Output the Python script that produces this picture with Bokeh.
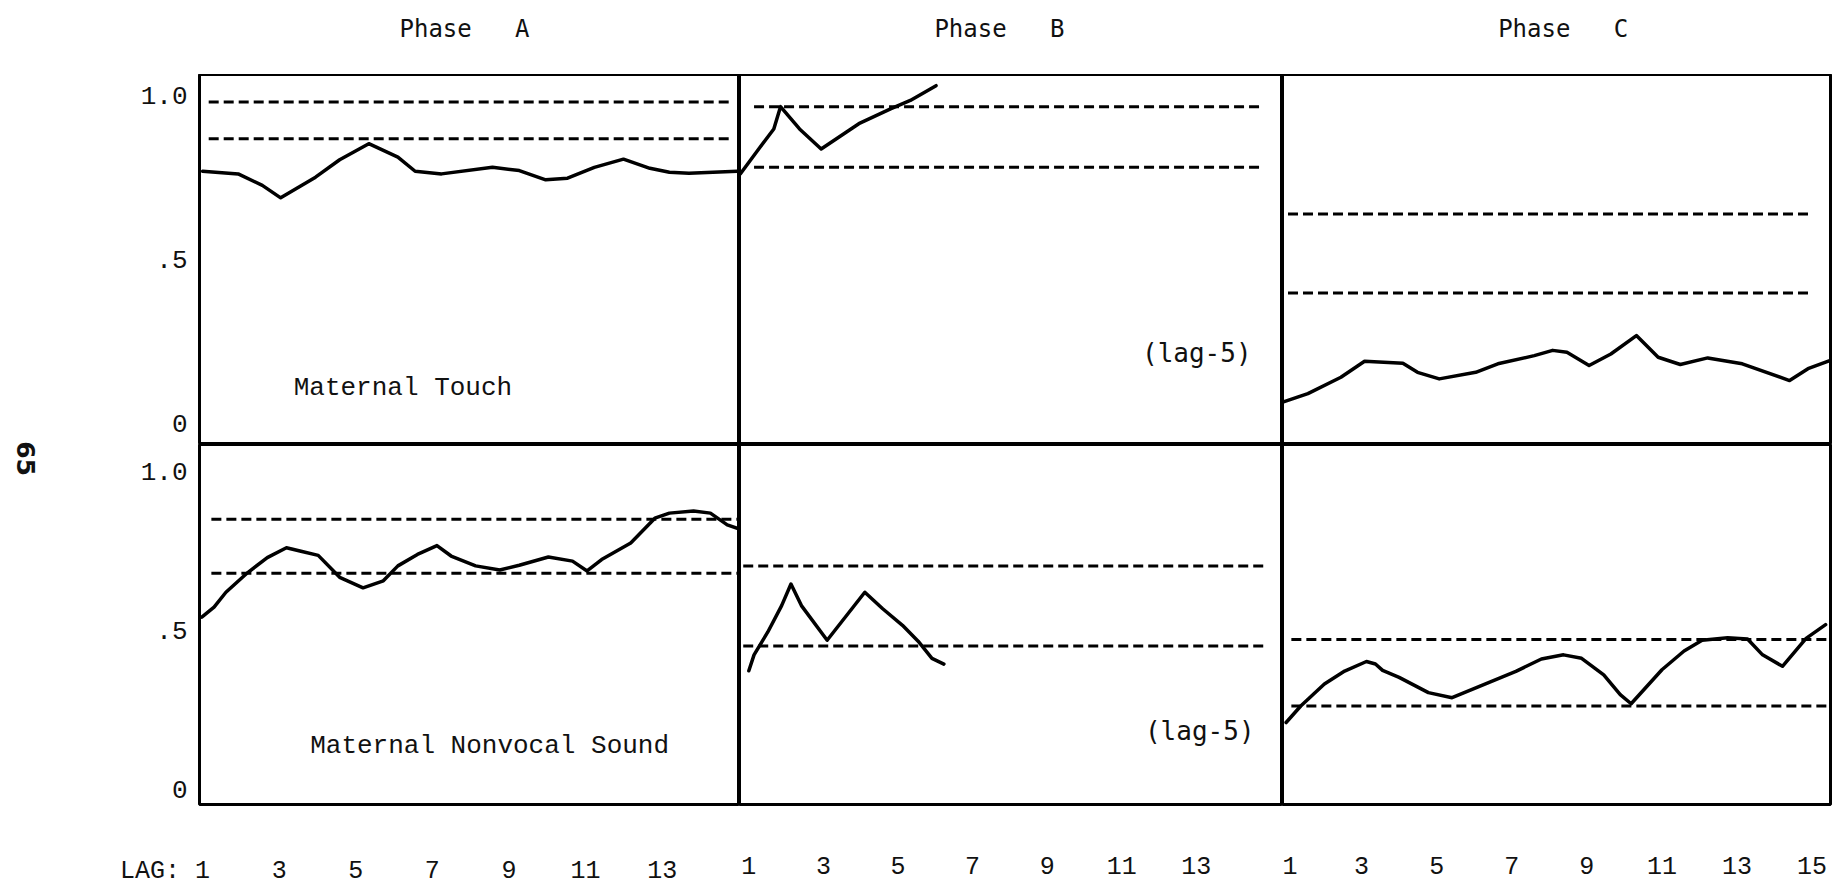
import math

from bokeh.plotting import figure
from bokeh.layouts import gridplot, row
from bokeh.models import Label, FixedTicker, Range1d
from bokeh.embed import file_html
from bokeh.resources import INLINE

# ---- data: cross-correlation by lag, with the two dashed critical levels ----
# Maternal Touch
touch_a_lag = [1.0, 1.93, 2.56, 3.04, 3.95, 4.58, 5.34, 6.10, 6.55, 7.24, 8.57, 9.27,
               9.96, 10.53, 11.23, 11.99, 12.68, 13.19, 13.70, 14.96]
touch_a_r = [0.769, 0.761, 0.726, 0.688, 0.751, 0.804, 0.853, 0.812, 0.769, 0.761, 0.781,
             0.771, 0.743, 0.748, 0.781, 0.806, 0.778, 0.766, 0.763, 0.769]
touch_a_levels = [0.980, 0.868]

touch_b_lag = [0.77, 1.30, 1.67, 1.85, 2.36, 2.94, 3.95, 4.80, 5.33, 6.02]
touch_b_r = [0.761, 0.842, 0.898, 0.966, 0.898, 0.837, 0.914, 0.959, 0.985, 1.030]
touch_b_levels = [0.966, 0.781]

touch_c_lag = [0.9, 1.57, 2.45, 3.08, 4.10, 4.49, 5.07, 6.04, 6.63, 7.60, 8.09, 8.47,
               9.06, 9.64, 10.32, 10.90, 11.49, 12.22, 13.14, 14.40, 14.89, 15.47]
touch_c_r = [0.065, 0.091, 0.141, 0.190, 0.184, 0.156, 0.136, 0.156, 0.182, 0.207, 0.223,
             0.217, 0.177, 0.212, 0.268, 0.202, 0.180, 0.200, 0.182, 0.131, 0.167, 0.192]
touch_c_levels = [0.639, 0.398]

# Maternal Nonvocal Sound
sound_a_lag = [0.98, 1.30, 1.61, 2.18, 2.69, 3.19, 3.57, 4.02, 4.58, 5.19, 5.72, 6.10,
               6.61, 7.12, 7.49, 8.13, 8.76, 9.27, 10.03, 10.66, 11.04, 11.42, 12.18,
               12.81, 13.19, 13.82, 14.26, 14.70, 15.02]
sound_a_r = [0.542, 0.573, 0.620, 0.682, 0.729, 0.760, 0.749, 0.736, 0.667, 0.634, 0.656,
             0.703, 0.739, 0.767, 0.734, 0.703, 0.690, 0.705, 0.731, 0.718, 0.687, 0.723,
             0.775, 0.853, 0.869, 0.876, 0.869, 0.832, 0.819]
sound_a_levels = [0.850, 0.680]

sound_b_lag = [1.00, 1.14, 1.51, 1.88, 2.13, 2.41, 3.10, 4.11, 4.59, 5.12, 5.54, 5.91, 6.23]
sound_b_r = [0.373, 0.423, 0.495, 0.578, 0.646, 0.578, 0.469, 0.620, 0.568, 0.516,
             0.466, 0.412, 0.394]
sound_b_levels = [0.703, 0.451]

sound_c_lag = [0.99, 1.38, 2.01, 2.55, 3.13, 3.37, 3.56, 4.00, 4.78, 5.41, 6.14, 7.11,
               7.79, 8.38, 8.86, 9.45, 9.89, 10.18, 11.00, 11.59, 12.07, 12.75, 13.28,
               13.68, 14.21, 14.84, 15.36]
sound_c_r = [0.210, 0.262, 0.331, 0.372, 0.402, 0.394, 0.374, 0.352, 0.304, 0.288, 0.324,
             0.371, 0.410, 0.423, 0.412, 0.360, 0.298, 0.269, 0.376, 0.435, 0.469, 0.477,
             0.473, 0.423, 0.387, 0.475, 0.518]
sound_c_levels = [0.471, 0.262]

phases = ["Phase A", "Phase B", "Phase C"]
behaviours = ["Maternal Touch", "Maternal Nonvocal Sound"]
y_ticks = [0, 0.5, 1.0]
y_tick_labels = {0: "0", 0.5: ".5", 1: "1.0"}
lag_ticks_ab = [1, 3, 5, 7, 9, 11, 13]
lag_ticks_c = [1, 3, 5, 7, 9, 11, 13, 15]
lag_caption = "LAG:"
page_number = "65"

TYPE_FONT = "Liberation Mono"
SANS_MONO = "DejaVu Sans Mono"
INK = "#111111"
NBSP = "\u00a0"

# ---- layout (pixels): margin strip | heading row over a 2 x 3 grid of panels ----
MARGIN_W = 60
PAGE_H = 888
HEAD_H = 74
AXIS_W = 199 - MARGIN_W
col_x_range = [(0.92, 15.02), (0.75, 15.31), (0.894, 15.49)]
row_y_range = [(-0.064, 1.064), (-0.048, 1.085)]
col_width = [739 - MARGIN_W, 543, 551]
row_height = [370, 444]


def blank(p):
    p.xgrid.grid_line_color = None
    p.ygrid.grid_line_color = None
    p.outline_line_color = None
    p.background_fill_color = "white"
    p.border_fill_color = "white"
    return p


def make_heading(col, text, lag_centre):
    h = figure(width=col_width[col], height=HEAD_H,
               x_range=Range1d(*col_x_range[col]), y_range=Range1d(0, 1),
               output_backend="svg", toolbar_location=None,
               x_axis_location=None, y_axis_location=None,
               min_border_left=AXIS_W if col == 0 else 0,
               min_border_right=3 if col == 2 else 0,
               min_border_top=0, min_border_bottom=0)
    blank(h)
    h.add_layout(Label(x=lag_centre, y=0.61, text=text.replace(" ", NBSP * 3),
                       text_align="center", text_baseline="middle",
                       text_font=SANS_MONO, text_font_size="24px", text_color=INK))
    return h


def make_panel(r_i, col, lag, r, levels, level_span):
    p = figure(
        width=col_width[col], height=row_height[r_i],
        x_range=Range1d(*col_x_range[col]), y_range=Range1d(*row_y_range[r_i]),
        output_backend="svg", toolbar_location=None,
        x_axis_location="below" if r_i == 1 else None,
        y_axis_location="left" if col == 0 else None,
        min_border_left=AXIS_W if col == 0 else 0,
        min_border_right=3 if col == 2 else 0,
        min_border_top=0,
        min_border_bottom=80 if r_i == 1 else 0,
    )
    blank(p)
    p.outline_line_color = "black"
    p.outline_line_width = 3

    if col == 0:
        ax = p.yaxis[0]
        ax.ticker = FixedTicker(ticks=y_ticks)
        ax.major_label_overrides = y_tick_labels
        ax.axis_line_color = None
        ax.major_tick_line_color = None
        ax.minor_tick_line_color = None
        ax.major_label_standoff = 6
        ax.major_label_text_font = TYPE_FONT
        ax.major_label_text_font_size = "26px"
        ax.major_label_text_color = INK
    if r_i == 1:
        ax = p.xaxis[0]
        ax.ticker = FixedTicker(ticks=lag_ticks_c if col == 2 else lag_ticks_ab)
        ax.axis_line_color = None
        ax.major_tick_line_color = None
        ax.minor_tick_line_color = None
        ax.major_label_standoff = 46
        ax.major_label_text_font = TYPE_FONT
        ax.major_label_text_font_size = "25px"
        ax.major_label_text_color = INK

    x0, x1 = level_span
    for lv in levels:
        p.line([x0, x1], [lv, lv], line_color="black", line_width=3, line_dash="10 5")
    p.line(lag, r, line_color="black", line_width=3.5, line_join="round", line_cap="round")
    return p


h_a = make_heading(0, phases[0], 7.84)
h_b = make_heading(1, phases[1], 7.72)
h_c = make_heading(2, phases[2], 8.37)

a_top = make_panel(0, 0, touch_a_lag, touch_a_r, touch_a_levels, (1.16, 14.84))
b_top = make_panel(0, 1, touch_b_lag, touch_b_r, touch_b_levels, (1.14, 14.76))
c_top = make_panel(0, 2, touch_c_lag, touch_c_r, touch_c_levels, (1.04, 14.98))
a_bot = make_panel(1, 0, sound_a_lag, sound_a_r, sound_a_levels, (1.23, 14.96))
b_bot = make_panel(1, 1, sound_b_lag, sound_b_r, sound_b_levels, (0.85, 14.90))
c_bot = make_panel(1, 2, sound_c_lag, sound_c_r, sound_c_levels, (1.13, 15.49))

# "LAG:" caption shares the first tick label of the bottom-left panel;
# the trailing no-break spaces keep the digit centred on its tick
a_bot.xaxis[0].major_label_overrides = {1: lag_caption + " 1" + NBSP * 5}

# full-height left margin carrying the page number, turned on its side
margin = figure(width=MARGIN_W, height=PAGE_H, x_range=Range1d(0, 1),
                y_range=Range1d(0, 1), output_backend="svg", toolbar_location=None,
                x_axis_location=None, y_axis_location=None,
                min_border_left=0, min_border_right=0, min_border_top=0, min_border_bottom=0)
blank(margin)
margin.add_layout(Label(x=0.43, y=0.4842, text=page_number, angle=-math.pi / 2,
                        text_align="center", text_baseline="middle",
                        text_font="DejaVu Sans", text_font_size="25px",
                        text_font_style="bold", text_color=INK))

# behaviour names inside the Phase A panels
a_top.add_layout(Label(x=3.38, y=0.107, text=behaviours[0], text_align="left",
                       text_baseline="middle", text_font=TYPE_FONT,
                       text_font_size="26px", text_color=INK))
a_bot.add_layout(Label(x=3.81, y=0.135, text=behaviours[1], text_align="left",
                       text_baseline="middle", text_font=TYPE_FONT,
                       text_font_size="26px", text_color=INK))

# lag note in the Phase B panels
b_top.add_layout(Label(x=14.48, y=0.216, text="(lag-5)", text_align="right",
                       text_baseline="middle", text_font=SANS_MONO,
                       text_font_size="26px", text_color=INK))
b_bot.add_layout(Label(x=14.56, y=0.182, text="(lag-5)", text_align="right",
                       text_baseline="middle", text_font=SANS_MONO,
                       text_font_size="26px", text_color=INK))

grid = gridplot([[h_a, h_b, h_c], [a_top, b_top, c_top], [a_bot, b_bot, c_bot]],
                toolbar_location=None)
page = row(margin, grid)

open("out.html", "w").write(file_html(page, INLINE))
